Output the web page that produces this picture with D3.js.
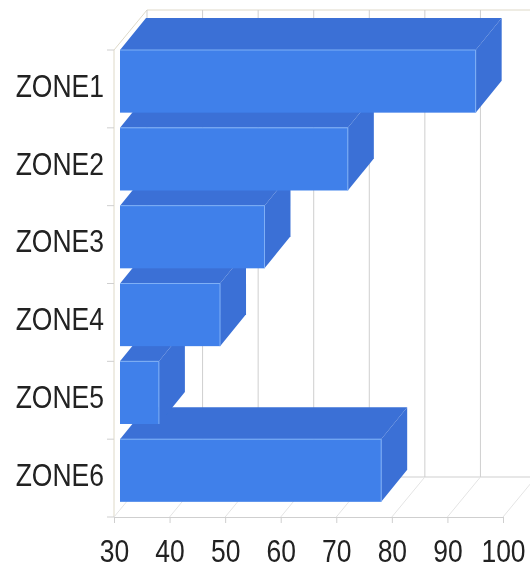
<!DOCTYPE html>
<html>
<head>
<meta charset="utf-8">
<script src="https://cdn.jsdelivr.net/npm/d3@7"></script>
<style>
  html, body { margin: 0; padding: 0; background: #fff; }
  text { font-family: "Liberation Sans", Arial, sans-serif; fill: #222; }
</style>
</head>
<body>
<div id="chart"></div>
<script>
const zones = ["ZONE1", "ZONE2", "ZONE3", "ZONE4", "ZONE5", "ZONE6"];
const values = [94, 71, 56, 48, 37, 77];
const xTicks = [30, 40, 50, 60, 70, 80, 90, 100];

const width = 530, height = 568;

// front plane of the 3d box
const x = d3.scaleLinear().domain([30, 100]).range([114, 503]);
const y = d3.scaleBand().domain(zones).range([50, 517]);

// offsets for the back wall and for the bars inside the box
const wall = { dx: 33, dy: -40 };
const bar = { dx: 6, dy: 0, depthX: 26, depthY: -32, heightRatio: 0.805 };

const gridColor = "#cfcfcf";
const frontColor = "#4080ea";
const sideColor = "#3a70d6";
const edgeColor = "#7fb0f6";

// the reference text is stretched vertically
const fontSize = 26.5;
const textStretch = 1.15;

const svg = d3.select("#chart").append("svg")
    .attr("width", width)
    .attr("height", height)
    .style("display", "block");

// slight softening, the reference is a blurry upscale
const blur = svg.append("defs").append("filter").attr("id", "soft");
blur.append("feGaussianBlur").attr("stdDeviation", 0.5);

const g = svg.append("g").attr("filter", "url(#soft)");

const plotTop = y.range()[0], plotBottom = y.range()[1];

// box outline
const frame = g.append("g").attr("fill", "none").attr("stroke", gridColor);
frame.append("path")
    .attr("d", `M${x(30)},${plotBottom}V${plotTop}L${x(30) + wall.dx},${plotTop + wall.dy}H${width}`)
    .attr("stroke", "#ded9c8");
frame.append("path").attr("d", `M${x(30) + wall.dx},${plotBottom + wall.dy}H${width}`);

// gridlines on the wall and on the floor
frame.selectAll(".wall-line")
    .data(xTicks)
    .join("line")
    .attr("class", "wall-line")
    .attr("x1", d => x(d) + wall.dx)
    .attr("x2", d => x(d) + wall.dx)
    .attr("y1", plotTop + wall.dy)
    .attr("y2", plotBottom + wall.dy);

frame.selectAll(".floor-line")
    .data(xTicks)
    .join("line")
    .attr("class", "floor-line")
    .attr("x1", d => x(d))
    .attr("x2", d => x(d) + wall.dx)
    .attr("y1", plotBottom)
    .attr("y2", plotBottom + wall.dy)
    .attr("stroke", "#e4e4e4");

// bars, drawn bottom up so the upper ones cover the top faces below them
const rows = zones.map((zone, i) => ({ zone, value: values[i] })).reverse();

const bars = g.selectAll(".bar")
    .data(rows)
    .join("g")
    .attr("class", "bar");

const barLeft = x(30) + bar.dx;
const barRight = d => x(d.value) + bar.dx;
const barTop = d => y(d.zone) + bar.dy;
const barBottom = d => barTop(d) + y.bandwidth() * bar.heightRatio;

bars.append("path") // top face
    .attr("fill", sideColor)
    .attr("d", d => `M${barLeft},${barTop(d)}l${bar.depthX},${bar.depthY}H${barRight(d) + bar.depthX}L${barRight(d)},${barTop(d)}Z`);

bars.append("path") // side face
    .attr("fill", sideColor)
    .attr("d", d => `M${barRight(d)},${barTop(d)}l${bar.depthX},${bar.depthY}V${barBottom(d) + bar.depthY}L${barRight(d)},${barBottom(d)}Z`);

bars.append("rect") // front face
    .attr("x", barLeft)
    .attr("y", barTop)
    .attr("width", d => barRight(d) - barLeft)
    .attr("height", d => barBottom(d) - barTop(d))
    .attr("fill", frontColor);

bars.append("path") // light edges
    .attr("fill", "none")
    .attr("stroke", edgeColor)
    .attr("d", d => `M${barLeft},${barTop(d)}H${barRight(d)}V${barBottom(d)}`);

// axes
const xAxis = g.append("g")
    .attr("transform", `translate(0,${plotBottom})`)
    .call(d3.axisBottom(x).tickValues(xTicks).tickFormat(d3.format("d")).tickSize(6).tickPadding(14));
xAxis.select(".domain").attr("stroke", gridColor);
xAxis.selectAll("line").attr("stroke", gridColor);
xAxis.selectAll("text")
    .attr("font-size", fontSize)
    .attr("fill", "#222")
    .attr("font-family", null)
    .attr("transform", `scale(1,${textStretch})`);

const yAxis = g.append("g")
    .attr("transform", `translate(${x(30)},0)`)
    .call(d3.axisLeft(y).tickSize(0).tickPadding(10));
yAxis.select(".domain").remove();
yAxis.selectAll("text")
    .attr("font-size", fontSize)
    .attr("fill", "#222")
    .attr("font-family", null)
    .attr("transform", `translate(0,-2) scale(1,${textStretch})`);

// tick marks sit on the band edges, not the centres
g.append("g").selectAll("line")
    .data(zones.concat("end"))
    .join("line")
    .attr("x1", x(30) - 7)
    .attr("x2", x(30))
    .attr("y1", d => d === "end" ? plotBottom : y(d))
    .attr("y2", d => d === "end" ? plotBottom : y(d))
    .attr("stroke", gridColor);
</script>
</body>
</html>
